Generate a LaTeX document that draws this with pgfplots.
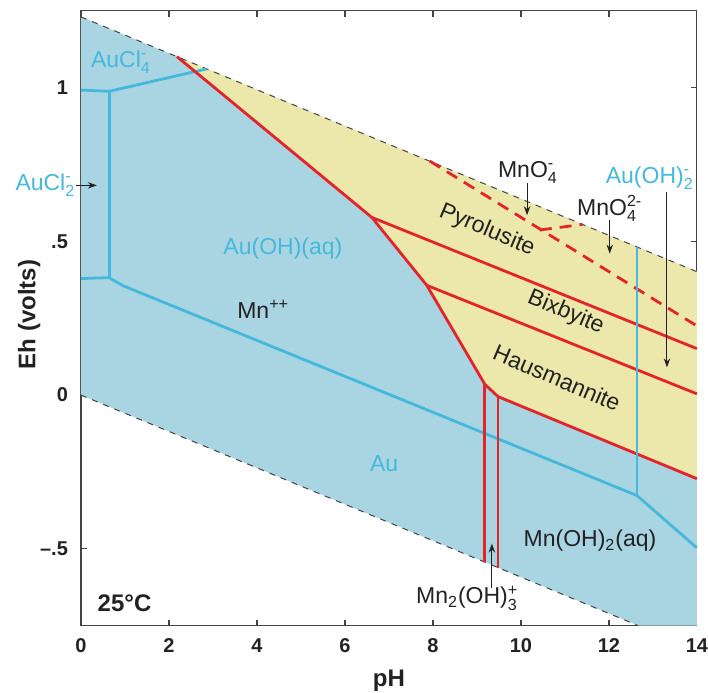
\documentclass[border=0pt]{standalone}
\usepackage{fontspec}
\setmainfont{Liberation Sans}
\usepackage{amsmath}
\usepackage{pgfplots}
\pgfplotsset{compat=1.18}
\usetikzlibrary{arrows.meta}

\definecolor{fieldblue}{HTML}{A9D5E3}
\definecolor{fieldyellow}{HTML}{ECE7AA}
\definecolor{mnred}{HTML}{E3252B}
\definecolor{aublue}{HTML}{45B8DB}
\definecolor{ink}{HTML}{222222}
\definecolor{frame}{HTML}{444444}

% species name with stacked subscript / superscript
\newcommand\ion[3]{#1$_{\text{#2}}^{\text{#3}}$}

\begin{document}
\begin{tikzpicture}[
  lbl/.style={font=\fontsize{11.5}{13}\selectfont, text=ink, inner sep=0pt},
  aulbl/.style={lbl, text=aublue},
  ptr/.style={-{Stealth[length=4.5pt,width=3.2pt]}, line width=0.5pt, ink},
]
\begin{axis}[
  scale only axis,
  width=308pt, height=307.5pt,
  xmin=0, xmax=14, ymin=-0.75, ymax=1.25,
  clip=false,
  axis line style={frame, line width=0.6pt},
  tick style={frame, line width=0.6pt},
  major tick length=3pt,
  xtick={0,2,...,14},
  xticklabels={0,2,4,6,8,10,12,14},
  ytick={-0.5,0,0.5,1},
  yticklabels={--.5,0,.5,1},
  tick label style={font=\bfseries\fontsize{10}{12}\selectfont, text=ink},
  xticklabel style={inner xsep=0pt, yshift=-3pt},
  yticklabel style={xshift=-3pt},
]
% stability field of water
\addplot[fill=fieldblue, draw=none] coordinates {
  (0,1.23) (14,0.4012) (14,-0.75) (12.669,-0.75) (0,0)};
% manganese oxide fields
\addplot[fill=fieldyellow, draw=none] coordinates {
  (2.18,1.101) (14,0.4012) (14,-0.272) (9.48,-0.005) (9.18,0.035)
  (7.86,0.357) (6.61,0.578) (2.18,1.101)};

% water limits
\addplot[dashed, frame, line width=0.5pt] coordinates {(0,1.23) (14,0.4012)};
\addplot[dashed, frame, line width=0.5pt] coordinates {(0,0) (12.669,-0.75)};

% gold boundaries
\addplot[aublue, line width=1.4pt] coordinates {(0,0.992) (0.64,0.988) (2.86,1.061)};
\addplot[aublue, line width=1.4pt] coordinates {(0.64,0.988) (0.64,0.382)};
\addplot[aublue, line width=1.4pt] coordinates {
  (0,0.379) (0.64,0.382) (0.95,0.356) (12.64,-0.327) (14,-0.497)};

% manganese boundaries
\addplot[mnred, line width=1.4pt] coordinates {
  (2.18,1.101) (6.61,0.578) (7.86,0.357) (9.18,0.035) (9.48,-0.005) (14,-0.272)};
\addplot[mnred, line width=1.4pt] coordinates {(6.61,0.578) (14,0.151)};
\addplot[mnred, line width=1.4pt] coordinates {(7.86,0.357) (14,0.004)};
\addplot[mnred, line width=1.4pt] coordinates {(9.18,0.035) (9.18,-0.5435)};
\addplot[mnred, line width=1.4pt] coordinates {(9.48,-0.005) (9.48,-0.561)};
\addplot[mnred, line width=1.4pt, dash pattern=on 6pt off 4pt] coordinates {(7.93,0.761) (14,0.225)};
\addplot[mnred, line width=1.4pt, dash pattern=on 6pt off 4pt] coordinates {(10.43,0.537) (11.4,0.555)};

% Au(OH)2- boundary
\addplot[aublue, line width=1.4pt] coordinates {(12.64,0.482) (12.64,-0.327)};

% field labels
\node[aulbl] at (axis cs:0.91,1.083) {\ion{AuCl}{4}{-}};
\node[aulbl, anchor=east] at (axis cs:-0.12,0.682) {\ion{AuCl}{2}{-}};
\draw[ptr] (axis cs:-0.12,0.682) -- (axis cs:0.36,0.682);
\node[aulbl] at (axis cs:4.59,0.477) {Au(OH)(aq)};
\node[lbl, anchor=base west] at (axis cs:3.545,0.249) {Mn\textsuperscript{++}};
\node[lbl, rotate=-23] at (axis cs:9.23,0.535) {Pyrolusite};
\node[lbl, rotate=-23] at (axis cs:11.02,0.269) {Bixbyite};
\node[lbl, rotate=-23] at (axis cs:10.82,0.057) {Hausmannite};
\node[lbl] at (axis cs:10.16,0.725) {\ion{MnO}{4}{-}};
\draw[ptr] (axis cs:10.14,0.69) -- (axis cs:10.14,0.585);
\node[lbl] at (axis cs:12.02,0.607) {\ion{MnO}{4}{2-}};
\draw[ptr] (axis cs:12.02,0.57) -- (axis cs:12.02,0.46);
\node[aulbl] at (axis cs:12.93,0.705) {Au(OH)\ensuremath{_{\text{2}}^{\text{-}}}};
\draw[ptr] (axis cs:13.32,0.66) -- (axis cs:13.32,0.09);
\node[aulbl] at (axis cs:6.89,-0.223) {Au};
\node[lbl] at (axis cs:11.57,-0.474) {Mn(OH)\textsubscript{2}(aq)};
\node[lbl] at (axis cs:8.78,-0.66) {Mn\textsubscript{2}(OH)\ensuremath{_{\text{3}}^{\text{+}}}};
\draw[ptr] (axis cs:9.34,-0.626) -- (axis cs:9.34,-0.483);
\node[lbl, font=\bfseries\fontsize{12}{14}\selectfont] at (axis cs:0.99,-0.676) {25°C};

% axis titles
\node[font=\bfseries\fontsize{12}{14}\selectfont, text=ink, inner sep=0pt] at (axis cs:7,-0.93) {pH};
\node[font=\bfseries\fontsize{12}{14}\selectfont, text=ink, rotate=90, inner sep=0pt] at (axis cs:-1.18,0.262) {Eh (volts)};

% page extent
\path (axis cs:-1.841,-0.969) rectangle (axis cs:14.25,1.285);
\end{axis}
\end{tikzpicture}
\end{document}
